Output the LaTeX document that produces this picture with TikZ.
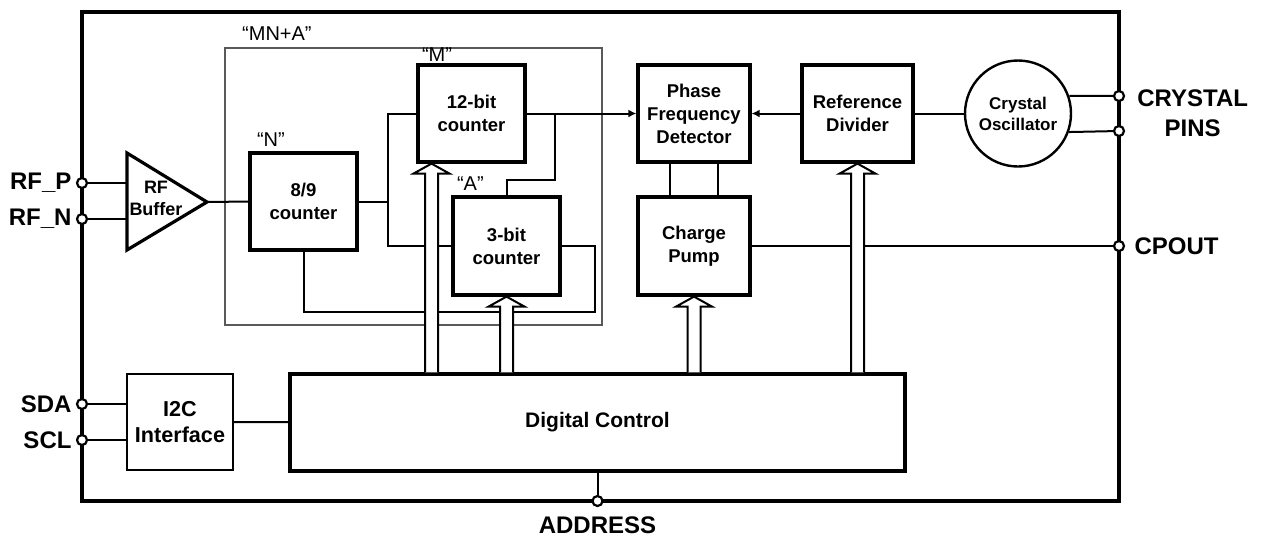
\documentclass[tikz,border=0pt]{standalone}
\usepackage{fontspec}
\setmainfont{Liberation Sans}
\usetikzlibrary{arrows.meta,positioning}

\begin{document}
\begin{tikzpicture}[x=0.5pt, y=-0.5pt, >={Latex[length=4pt,width=4pt]},
  wire/.style={line width=1pt},
  blk/.style={draw,line width=1.6pt,align=center,inner sep=0pt,
    font=\fontsize{9.25}{11.5}\selectfont\bfseries},
  cnt/.style={blk,minimum width=53.5pt,minimum height=48.5pt},
  term/.style={circle,draw,fill=white,line width=1.1pt,inner sep=0pt,minimum size=5pt},
  plab/.style={inner sep=0pt,font=\fontsize{12}{15}\selectfont\bfseries},
  qlab/.style={inner sep=0pt,anchor=base west,font=\fontsize{10}{12}\selectfont},
  bus/.style={draw,fill=white,line width=1pt,line join=miter}]

  \useasboundingbox (0,0) rectangle (1269,538);

  % chip outline and the MN+A group
  \draw[line width=1.6pt] (82,12) rectangle (1119,501);
  \node[draw=black!65,line width=0.6pt,minimum width=188.5pt,minimum height=138.5pt] (mna) at (413.5,186.5) {};

  % pins
  \node[term] (rfp)  at (82,183) {};
  \node[term] (rfn)  at (82,219) {};
  \node[term] (sda)  at (82,404) {};
  \node[term] (scl)  at (82,440) {};
  \node[term] (xp1)  at (1119,96) {};
  \node[term] (xp2)  at (1119,131) {};
  \node[term] (cpo)  at (1119,246) {};
  \node[term] (addr) at (597.5,501) {};

  \node[plab,left=2pt of rfp] (rfpl) {RF\_P};
  \node[plab,left=2pt of rfn] (rfnl) {RF\_N};
  \node[plab,left=2pt of sda] (sdal) {SDA};
  \node[plab,left=2pt of scl] (scll) {SCL};
  \node[plab,right=4.5pt of cpo] (cpol) {CPOUT};
  \node[plab,align=center,anchor=west] (xpl) at (1137,113) {CRYSTAL\\PINS};
  \node[plab,below=4.5pt of addr] (addrl) {ADDRESS};

  % RF buffer
  \draw[line width=1.6pt,line join=miter] (127,153) -- (207,202) -- (127,250) -- cycle;
  \coordinate (bufin) at (127,202);
  \coordinate (bufout) at (207,202);
  \node[blk,draw=none,font=\fontsize{9}{11}\selectfont\bfseries] (buf) at (156,198) {RF\\Buffer};

  % counters
  \node[cnt] (n89) at (303.5,201.5) {8/9\\counter};
  \node[cnt] (m12) at (471.5,113.5) {12-bit\\counter};
  \node[cnt,minimum height=49pt] (a3) at (506.5,246) {3-bit\\counter};

  \node[qlab] (qmna) at ([xshift=8.7pt,yshift=3.3pt]mna.north west) {“MN+A”};
  \node[qlab] (qn) at ([xshift=4.1pt,yshift=2.3pt]n89.north west) {“N”};
  \node[qlab] (qm) at ([xshift=2.6pt,yshift=0.9pt]m12.north west) {“M”};
  \node[qlab] (qa) at ([xshift=2.6pt,yshift=2.3pt]a3.north west) {“A”};

  % PLL blocks
  \node[blk,minimum width=56pt,minimum height=48.5pt] (pfd) at (694,113.5) {Phase\\Frequency\\Detector};
  \node[blk,minimum width=56pt,minimum height=49pt,below=15.9pt of pfd] (cp) {Charge\\Pump};
  \node[blk,minimum width=55.5pt,minimum height=48.5pt,right=24.4pt of pfd] (refdiv) {Reference\\Divider};
  \node[circle,draw,line width=1.2pt,minimum size=53pt,inner sep=0pt,align=center,
    font=\fontsize{8.5}{10.5}\selectfont\bfseries,right=24.6pt of refdiv] (xtal) {Crystal\\Oscillator};

  % control side
  \node[draw,line width=1pt,minimum width=53pt,minimum height=48pt,align=center,
    font=\fontsize{10.8}{13}\selectfont\bfseries] (i2c) at (180,422) {I2C\\Interface};
  \node[blk,minimum width=307.5pt,minimum height=48.5pt,
    font=\fontsize{10.5}{13}\selectfont\bfseries] (dig) at (597.5,422.5) {Digital Control};

  % wires
  \draw[wire] (rfp) -- (rfp -| bufin);
  \draw[wire] (rfn) -- (rfn -| bufin);
  \draw[wire] (bufout) -- (n89.west);
  \coordinate (jA) at (388,113.5);
  \draw[wire] (n89.east) -- (n89.east -| jA);
  \draw[wire] (m12.west) -- (jA) |- (a3.west);
  \draw[wire,->] (m12.east) -- (pfd.west);
  \coordinate (jB) at (555,180);
  \draw[wire] (m12.east -| jB) -- (jB) -| (a3.north);
  \coordinate (jD) at (595,312);
  \draw[wire] (a3.east) -| (jD) -| (n89.south);
  \draw[wire,->] (refdiv.west) -- (pfd.east);
  \draw[wire] (xtal) -- (refdiv);
  \draw[wire] (xtal.19) -- (xp1);
  \draw[wire] (xtal.-20) -- (xp2);
  \draw[wire] ([xshift=-12pt]pfd.south) -- ([xshift=-12pt]cp.north);
  \draw[wire] ([xshift=12pt]pfd.south) -- ([xshift=12pt]cp.north);
  \draw[wire] (cp.east) -- (cpo);
  \draw[wire] (sda) -- (sda -| i2c.west);
  \draw[wire] (scl) -- (scl -| i2c.west);
  \draw[wire] (i2c) -- (dig);
  \draw[wire] (dig.south) -- (addr);

  % hollow bus arrows from digital control
  \foreach \tgt/\dx in {m12/-20pt, a3/0pt, cp/0pt, refdiv/0pt} {
    \coordinate (tip) at ([xshift=\dx]\tgt.south);
    \coordinate (base) at (tip |- dig.north);
    \draw[bus] ([xshift=-3.25pt]base) -- ([xshift=-3.25pt,yshift=-5pt]tip)
      -- ([xshift=-9pt,yshift=-5pt]tip) -- (tip) -- ([xshift=9pt,yshift=-5pt]tip)
      -- ([xshift=3.25pt,yshift=-5pt]tip) -- ([xshift=3.25pt]base);
  }
\end{tikzpicture}
\end{document}
